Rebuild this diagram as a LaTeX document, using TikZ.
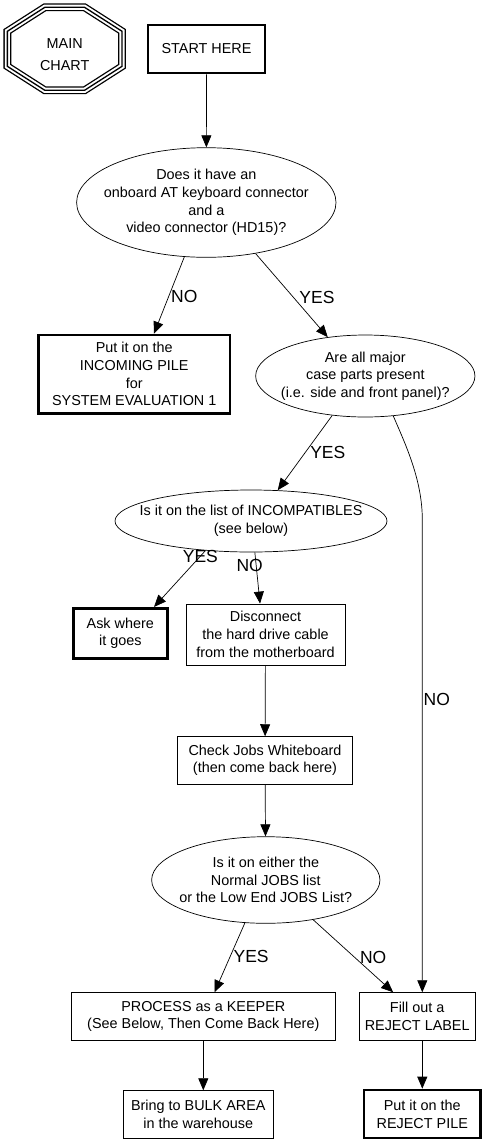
\documentclass[tikz,border=0pt]{standalone}
\usepackage{fontspec}
\setmainfont{Liberation Sans}
\usetikzlibrary{positioning,shapes.geometric,arrows.meta,calc}

\begin{document}
\begin{tikzpicture}[
  x=1pt, y=-1pt,
  font=\fontsize{14.4}{17.7}\selectfont,
  box/.style={draw, line width=0.8pt, align=center, inner sep=0pt},
  term/.style={box, line width=2.7pt},
  query/.style={draw, ellipse, line width=0.7pt, inner sep=0pt},
  qtext/.style={align=center, inner sep=0pt},
  arr/.style={-{Triangle[length=12pt,width=10pt]}, line width=0.7pt},
  lbl/.style={font=\fontsize{17.5}{20}\selectfont, inner sep=0pt},
  octa/.style={line width=1.3pt, line join=miter,
    preaction={draw, line width=1.3pt, double, double distance=5.2pt}},
]
\useasboundingbox (0,0) rectangle (492,1144);

% title octagon and start
\node[qtext, font=\fontsize{14.4}{22.7}\selectfont] (main) at (64.7,54.5) {MAIN\\CHART};
\draw[octa, shift={($(main.center)+(0,-5.7)$)}]
  (-19.85,-41.5) -- (19.85,-41.5) -- (57.35,-17.5) -- (57.35,17.5)
  -- (19.85,41.5) -- (-19.85,41.5) -- (-57.35,17.5) -- (-57.35,-17.5) -- cycle;
\node[term, minimum width=117pt, minimum height=48pt] (start) at (206.5,49) {START HERE};

% first question
\node[query, minimum width=259.4pt, minimum height=109.6pt] (q1) at (206.3,202.5) {};
\node[qtext] (q1t) at (q1) {Does it have an\\onboard AT keyboard connector\\and a\\video connector (HD15)?};
\node[term, minimum width=191.7pt, minimum height=78.3pt] (inc) at (134.2,374.2)
  {Put it on the\\INCOMING PILE\\for\\SYSTEM EVALUATION 1};
\node[query, minimum width=219.3pt, minimum height=82pt] (q2) at (365.3,376) {};
\node[qtext] (q2t) at (q2) {Are all major\\case parts present\\(i.e. side and front panel)?};
\draw[arr] (start) -- (q1);
\draw[arr] (q1.248) -- node[lbl, pos=0.51, right=2pt] (noinc) {NO} (inc.64);
\draw[arr] (q1.314) -- node[lbl, pos=0.52, right=6pt] (yescase) {YES} (q2.134);

% incompatibles
\node[query, minimum width=272pt, minimum height=62pt] (q3) at (251,521) {};
\node[qtext] (q3t) at (q3) {Is it on the list of INCOMPATIBLES\\(see below)};
\node[term, minimum width=94pt, minimum height=50pt] (where) at (120.3,633.3) {Ask where\\it goes};
\node[box, minimum width=159pt, minimum height=61pt] (disc) at (265.5,634.5)
  {Disconnect\\the hard drive cable\\from the motherboard};
\draw[arr] (q2.230) -- node[lbl, pos=0.5, right=5pt] (yesinc) {YES} (q3.49);
\draw[arr] (q3.213) -- node[lbl, pos=0.1] (yeswhere) {YES} (where.38);
\draw[arr] (q3.277) -- node[lbl, pos=0.25, xshift=-6.5pt] (nodisc) {NO} (disc.100);

% jobs
\node[box, minimum width=175.4pt, minimum height=47.3pt] (check) at (265,760.3)
  {Check Jobs Whiteboard\\(then come back here)};
\node[query, minimum width=228.3pt, minimum height=86.6pt] (q4) at (265.8,880) {};
\node[qtext] (q4t) at (q4) {Is it on either the\\Normal JOBS list\\or the Low End JOBS List?};
\draw[arr] (disc) -- (check);
\draw[arr] (check) -- (q4);

% outcomes
\node[box, minimum width=263.3pt, minimum height=47.3pt] (keep) at (203.3,1016.3)
  {PROCESS as a KEEPER\\(See Below, Then Come Back Here)};
\node[box, minimum width=115.7pt, minimum height=47.3pt] (rej) at (417.2,1016.3) {Fill out a\\REJECT LABEL};
\node[box, minimum width=150pt, minimum height=47.6pt] (bulk) at (198.3,1114.5) {Bring to BULK AREA\\in the warehouse};
\node[term, minimum width=116.7pt, minimum height=48pt] (pile) at (422.3,1114) {Put it on the\\REJECT PILE};
\draw[arr] (q4.244) -- node[lbl, pos=0.48, right=3pt] (yeskeep) {YES} (keep.65);
\draw[arr] (q4.320) -- node[lbl, pos=0.52, right=5pt] (norej) {NO} (rej.135);
\draw[arr] (q2.305) .. controls +(12,28) and +(0,-40) .. ($(pile.north |- q3.north)+(0,30)$)
  -- node[lbl, pos=0.38, right=1pt] (nocase) {NO} (rej.north -| pile.north);
\draw[arr] (keep.south) -- (keep.south |- bulk.north);
\draw[arr] (rej.south -| pile.north) -- (pile);
\end{tikzpicture}
\end{document}
